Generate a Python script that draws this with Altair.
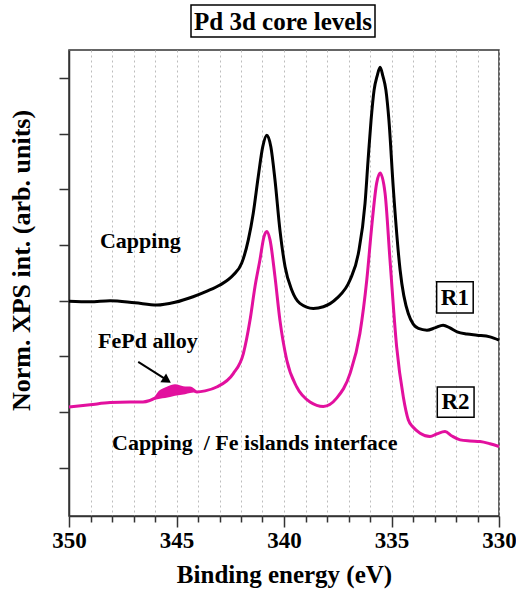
import altair as alt
import pandas as pd

FONT = "Liberation Serif"
MAGENTA = "#e2109e"

# R1 (Capping) - binding energy (eV) and normalized intensity (arb. units)
r1_ev = [350.00, 349.02, 348.09, 346.93, 345.91, 345.07, 344.23, 343.58, 342.98, 342.36,
         341.97, 341.66, 341.43, 341.20, 340.99, 340.80, 340.61, 340.42, 340.19, 339.95,
         339.64, 339.26, 338.64, 338.17, 337.55, 336.93, 336.54, 336.23, 336.09, 335.95,
         335.81, 335.67, 335.53, 335.40, 335.26, 335.12, 334.92, 334.60, 334.22, 333.75,
         333.35, 332.98, 332.60, 332.28, 331.95, 331.49, 331.02, 330.42, 330.00]
r1_val = [2.99, 2.98, 3.00, 2.96, 2.92, 2.97, 3.07, 3.17, 3.28, 3.46,
          3.67, 4.09, 4.57, 5.22, 5.76, 5.97, 5.76, 5.17, 4.27, 3.61,
          3.19, 2.95, 2.86, 2.89, 3.04, 3.37, 3.85, 4.75, 5.52, 6.24,
          6.78, 7.03, 7.19, 7.03, 6.78, 6.24, 5.04, 3.55, 2.77, 2.50,
          2.47, 2.51, 2.56, 2.51, 2.44, 2.40, 2.38, 2.35, 2.29]

# R2 (Capping / Fe islands interface)
r2_ev = [350.00, 349.02, 348.09, 347.16, 346.56, 346.00, 345.77, 345.53, 345.07, 344.60,
         344.37, 344.05, 343.67, 343.13, 342.36, 341.89, 341.58, 341.35, 341.12, 340.93,
         340.80, 340.65, 340.42, 340.19, 339.87, 339.41, 338.79, 338.17, 337.55, 336.93,
         336.47, 336.15, 335.92, 335.69, 335.53, 335.30, 335.07, 334.76, 334.45, 334.22,
         334.00, 333.67, 333.21, 332.88, 332.51, 332.19, 331.81, 331.35, 330.88, 330.42,
         330.00]
r2_val = [1.09, 1.13, 1.17, 1.18, 1.18, 1.25, 1.36, 1.41, 1.47, 1.43,
          1.43, 1.36, 1.38, 1.45, 1.69, 2.05, 2.65, 3.25, 3.73, 4.15,
          4.24, 4.09, 3.43, 2.65, 1.93, 1.45, 1.18, 1.10, 1.25, 1.69,
          2.41, 3.37, 4.33, 5.11, 5.29, 4.93, 3.73, 2.17, 1.27, 0.86,
          0.73, 0.62, 0.56, 0.61, 0.65, 0.57, 0.50, 0.48, 0.47, 0.43,
          0.38]

# FePd alloy shaded component
fepd_ev = [346.56, 346.00, 345.77, 345.53, 345.07, 344.60, 344.37, 344.05]
fepd_top = [1.18, 1.25, 1.36, 1.41, 1.47, 1.43, 1.43, 1.36]
fepd_base = [1.18, 1.22, 1.24, 1.25, 1.29, 1.32, 1.34, 1.36]

x_ticks = list(range(330, 351))
y_ticks = list(range(0, 8))

xscale = alt.Scale(domain=[330, 350], reverse=True, nice=False)
yscale = alt.Scale(domain=[-0.867, 7.5], nice=False, zero=False)

r1 = pd.DataFrame({"ev": r1_ev, "v": r1_val})
r2 = pd.DataFrame({"ev": r2_ev, "v": r2_val})
fepd = pd.DataFrame({"ev": fepd_ev, "top": fepd_top, "base": fepd_base})

x_axis = alt.Axis(
    values=x_ticks, title="Binding energy (eV)", grid=True,
    gridDash=[2, 3], gridColor="#bdbdbd", gridWidth=1,
    tickSize={"condition": {"test": "datum.value % 5 === 0", "value": 11}, "value": 6},
    labelExpr="datum.value % 5 === 0 ? datum.label : ''",
    labelOverlap=False, labelFlush=False, labelFont=FONT, labelFontSize=23,
    labelFontWeight="bold", labelColor="black", labelPadding=2,
    titleFont=FONT, titleFontSize=25, titleFontWeight="bold", titleColor="black",
    titleX=215, titleY=66, titleBaseline="alphabetic", titleAnchor="middle",
    domainColor="#333", domainWidth=1.5, tickColor="#333", tickWidth=1.5,
)
y_axis = alt.Axis(
    values=y_ticks, labels=False, grid=False, tickSize=10,
    title="Norm. XPS int. (arb. units)", titleFont=FONT, titleFontSize=26,
    titleFontWeight="bold", titleColor="black", titleX=-40, titleY=210,
    titleBaseline="alphabetic", titleAngle=-90, titleAlign="center",
    domainColor="#333", domainWidth=1.5, tickColor="#333", tickWidth=1.5,
)


def X(field):
    return alt.X(field, type="quantitative", scale=xscale, axis=x_axis)


def Y(field):
    return alt.Y(field, type="quantitative", scale=yscale, axis=y_axis)


line_r1 = alt.Chart(r1).mark_line(color="black", strokeWidth=3, interpolate="monotone").encode(
    x=X("ev"), y=Y("v"))
line_r2 = alt.Chart(r2).mark_line(color=MAGENTA, strokeWidth=3, interpolate="monotone").encode(
    x=X("ev"), y=Y("v"))
area = alt.Chart(fepd).mark_area(color=MAGENTA, opacity=1, interpolate="monotone").encode(
    x=X("ev"), y=Y("top"), y2="base:Q")

# annotations
ann = pd.DataFrame({
    "ev": [348.56, 348.65, 348.0],
    "v": [3.94, 2.15, 0.32],
    "t": ["Capping", "FePd alloy", "Capping\u00a0\u00a0/ Fe islands interface"],
})
ann_text = alt.Chart(ann).mark_text(
    align="left", baseline="alphabetic", font=FONT, fontSize=22, fontWeight="bold", color="black"
).encode(x=X("ev"), y=Y("v"), text="t:N")

lab = pd.DataFrame({"ev": [332.05, 332.02], "v": [2.93, 1.05], "t": ["R1", "R2"],
                    "x1": [332.90, 332.87], "x2": [331.20, 331.16],
                    "y1": [3.34, 1.45], "y2": [2.78, 0.905]})
lab_text = alt.Chart(lab).mark_text(
    align="center", baseline="alphabetic", font=FONT, fontSize=23, fontWeight="bold", color="black"
).encode(x=X("ev"), y=Y("v"), text="t:N")
lab_box = alt.Chart(lab).mark_rect(fill="white", fillOpacity=0, stroke="black", strokeWidth=1.5).encode(
    x=X("x1"), x2="x2:Q", y=Y("y1"), y2="y2:Q")

arrow = pd.DataFrame({"ev": [346.78], "v": [1.90], "ev2": [345.55], "v2": [1.60]})
arrow_line = alt.Chart(arrow).mark_rule(color="black", strokeWidth=2).encode(
    x=X("ev"), y=Y("v"), x2="ev2:Q", y2="v2:Q")
arrow_head = alt.Chart(pd.DataFrame({"ev": [345.44], "v": [1.57]})).mark_point(
    shape="triangle-right", filled=True, color="black", size=110, angle=33, opacity=1
).encode(x=X("ev"), y=Y("v"))

title_df = pd.DataFrame({"t": ["Pd 3d core levels"]})
title_box = alt.Chart(title_df).mark_rect(fillOpacity=0, stroke="black", strokeWidth=1.5).encode(
    x=alt.value(122), x2=alt.value(306), y=alt.value(-45), y2=alt.value(-13))
title_text = alt.Chart(title_df).mark_text(
    font=FONT, fontSize=25, fontWeight="bold", color="black", align="center", baseline="alphabetic"
).encode(x=alt.value(214), y=alt.value(-20.5), text="t:N")

chart = alt.layer(
    line_r1, area, line_r2, ann_text, lab_box, lab_text, arrow_line, arrow_head, title_box, title_text
).properties(
    width=430, height=466,
    autosize=alt.AutoSizeParams(type="none"),
    padding={"left": 69, "top": 50, "right": 17, "bottom": 79},
    background="white",
).configure_view(stroke="#333", strokeWidth=1.5)

chart.save("out.html", embed_options={"renderer": "svg", "actions": False})
